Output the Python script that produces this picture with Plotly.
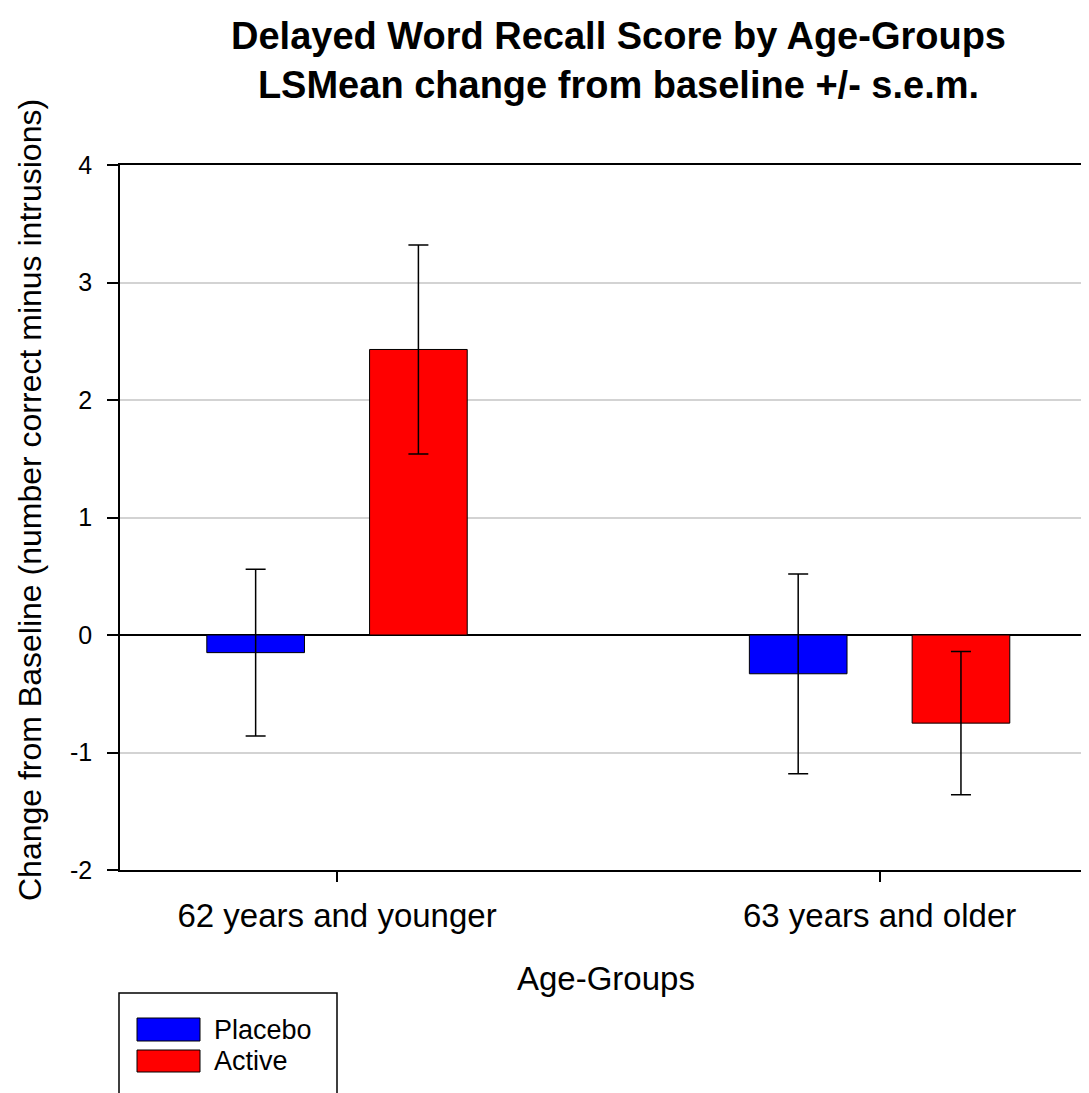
import plotly.graph_objects as go

# ---- data ----
categories = ["62 years and younger", "63 years and older"]
series_names = ["Placebo", "Active"]
placebo_mean = [-0.15, -0.33]
placebo_sem = [0.71, 0.85]
active_mean = [2.43, -0.75]
active_sem = [0.89, 0.61]
colors = ["#0000FF", "#FF0000"]
y_ticks = [-2, -1, 0, 1, 2, 3, 4]
y_tick_labels = ["-2", "-1", "0", "1", "2", "3", "4"]

OFF = 8  # default body margin of the html page
W, H = 1089 - OFF, 1093 - OFF
L, R, T, B = 120 - OFF, 0, 165 - OFF, 1093 - 870
FONT = "Liberation Sans, Arial, sans-serif"

fig = go.Figure()
for name, mean, sem, col in zip(series_names, [placebo_mean, active_mean],
                                [placebo_sem, active_sem], colors):
    fig.add_trace(go.Bar(
        x=categories, y=mean, name=name,
        marker=dict(color=col, line=dict(color="black", width=1)),
        error_y=dict(type="data", array=sem, visible=True, color="black",
                     thickness=1.5, width=10),
        showlegend=False,
    ))

# page pixel -> paper helpers for the hand-drawn legend box and titles
pw, ph = W - L - R, H - T - B
def px(x):
    return (x - OFF - L) / pw
def py(y):
    return (H - B - (y - OFF)) / ph

shapes = [
    dict(type="rect", xref="paper", yref="paper", x0=px(119), x1=px(337),
         y0=py(1110), y1=py(993), line=dict(color="black", width=1.5),
         fillcolor="white", layer="above"),
]
annotations = [
    dict(xref="paper", yref="paper", x=px(618), y=py(13), xanchor="center",
         yanchor="top", showarrow=False,
         text="<b>Delayed Word Recall Score by Age-Groups<br>LSMean change from baseline +/- s.e.m.</b>",
         font=dict(family=FONT, size=38, color="black")),
    dict(xref="paper", yref="paper", x=px(606), y=py(958), xanchor="center",
         yanchor="top", showarrow=False, text="Age-Groups",
         font=dict(family=FONT, size=33, color="black")),
    dict(xref="paper", yref="paper", x=px(30), y=py(500), xanchor="center",
         yanchor="middle", showarrow=False, textangle=-90,
         text="Change from Baseline (number correct minus intrusions)",
         font=dict(family=FONT, size=32, color="black")),
]
rows = [(1018, 1041), (1050, 1072)]
for (y0, y1), name, col in zip(rows, series_names, colors):
    shapes.append(dict(type="rect", xref="paper", yref="paper",
                       x0=px(137), x1=px(200), y0=py(y1), y1=py(y0),
                       fillcolor=col, line=dict(color="black", width=1),
                       layer="above"))
    annotations.append(dict(xref="paper", yref="paper", x=px(212),
                            y=py((y0 + y1) / 2), text=name, showarrow=False,
                            xanchor="left", yanchor="middle",
                            font=dict(family=FONT, size=27, color="black")))

fig.update_layout(
    width=W, height=H,
    margin=dict(l=L, r=R, t=T, b=B, autoexpand=False),
    paper_bgcolor="white", plot_bgcolor="white",
    barmode="group", bargap=0.4, bargroupgap=0.4,
    font=dict(family=FONT, color="black"),
    shapes=shapes, annotations=annotations,
    xaxis=dict(
        range=[-0.4, 1.386], showline=True, linecolor="black", linewidth=1.5,
        mirror=True, ticks="outside", ticklen=10, tickcolor="black", tickwidth=1.5,
        tickfont=dict(family=FONT, size=33, color="black"),
        ticklabelstandoff=6, automargin=False,
        showgrid=False, zeroline=False,
    ),
    yaxis=dict(
        range=[-2, 4], tickvals=y_ticks, ticktext=y_tick_labels, showline=True,
        linecolor="black", linewidth=1.5, ticks="outside", ticklen=11,
        tickcolor="black", tickwidth=1.5,
        tickfont=dict(family=FONT, size=25, color="black"),
        ticklabelstandoff=10, automargin=False,
        showgrid=True, gridcolor="#d3d3d3", gridwidth=1.5,
        zeroline=True, zerolinecolor="black", zerolinewidth=1.5,
    ),
)

fig.write_html("out.html")
